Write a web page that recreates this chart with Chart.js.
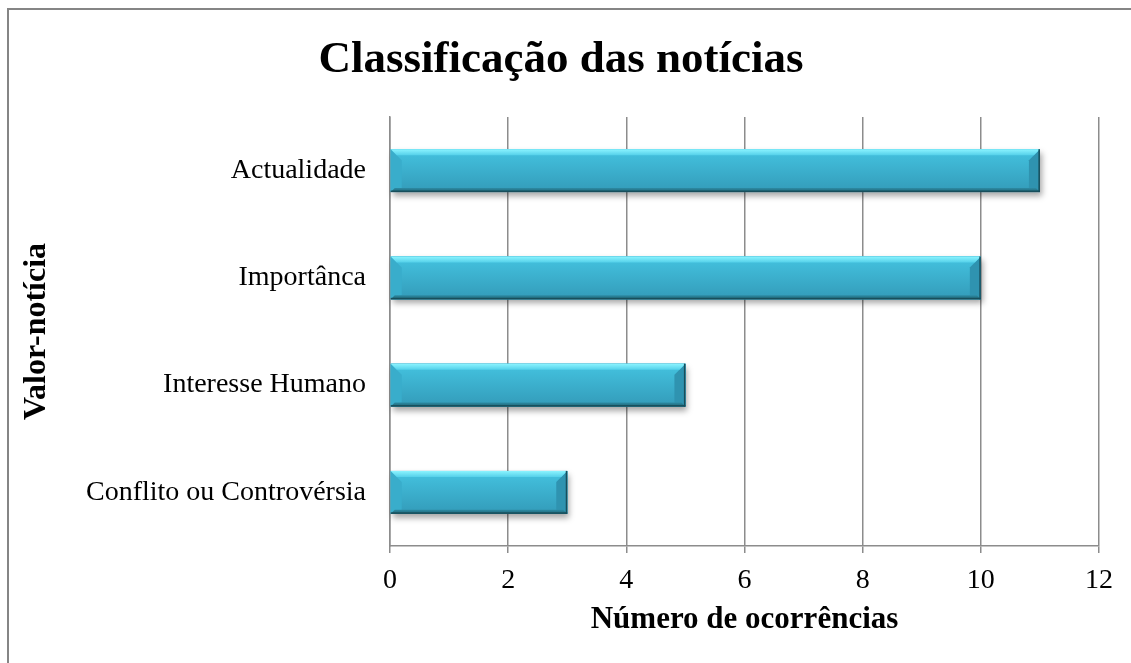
<!DOCTYPE html>
<html>
<head>
<meta charset="utf-8">
<title>Classificação das notícias</title>
<script src="https://cdn.jsdelivr.net/npm/chart.js@4.4.0/dist/chart.umd.min.js"></script>
<style>
  html, body { margin: 0; padding: 0; background: #fff; overflow: hidden; }
  #wrap { position: absolute; left: 0; top: 0; width: 1131px; height: 663px; }
  #frame { position: absolute; left: 7px; top: 8px; width: 1200px; height: 700px;
           border: 2px solid #858585; pointer-events: none; }
</style>
</head>
<body>
<div id="wrap"><canvas id="chart" width="1131" height="663"></canvas></div>
<div id="frame"></div>
<script>
// Data
const categories = ['Actualidade', 'Importânca', 'Interesse Humano', 'Conflito ou Controvérsia'];
const occurrences = [11, 10, 5, 3];
const xTicks = [0, 2, 4, 6, 8, 10, 12];

const SERIF = "'Liberation Serif', 'Times New Roman', serif";
const GRID = '#8c8c8c';

// Draw a closed polygon
const poly = (ctx, pts, fill) => {
  ctx.beginPath();
  ctx.moveTo(pts[0][0], pts[0][1]);
  pts.slice(1).forEach(p => ctx.lineTo(p[0], p[1]));
  ctx.closePath();
  ctx.fillStyle = fill;
  ctx.fill();
};

// Excel-like bevel and shadow on top of the bars Chart.js draws
const bevelBars = {
  id: 'bevelBars',
  beforeDatasetsDraw(chart) {
    const ctx = chart.ctx;
    chart.getDatasetMeta(0).data.forEach(bar => {
      const top = bar.y - bar.height / 2;
      ctx.save();
      ctx.shadowColor = 'rgba(0,0,0,0.35)';
      ctx.shadowBlur = 6;
      ctx.shadowOffsetX = 2;
      ctx.shadowOffsetY = 4;
      ctx.fillStyle = '#2f97b4';
      ctx.fillRect(bar.base, top, bar.x - bar.base, bar.height);
      ctx.restore();
    });
  },
  afterDatasetsDraw(chart) {
    const ctx = chart.ctx;
    chart.getDatasetMeta(0).data.forEach(bar => {
      const x0 = bar.base, x1 = bar.x;
      const y0 = bar.y - bar.height / 2, y1 = bar.y + bar.height / 2;
      const bx = 11, bt = 6, bb = 4;
      ctx.save();
      // main face
      let g = ctx.createLinearGradient(0, y0, 0, y1);
      g.addColorStop(0, '#44c3e0');
      g.addColorStop(1, '#339bb9');
      ctx.fillStyle = g;
      ctx.fillRect(x0, y0, x1 - x0, y1 - y0);
      // left face
      poly(ctx, [[x0, y0], [x0 + bx, y0 + bx], [x0 + bx, y1 - bb], [x0, y1]], '#39adcb');
      // right face
      poly(ctx, [[x1, y0], [x1, y1], [x1 - bx, y1 - bb], [x1 - bx, y0 + bx]], '#2f93b0');
      // top face
      g = ctx.createLinearGradient(0, y0, 0, y0 + bt);
      g.addColorStop(0, '#8cf4ff');
      g.addColorStop(1, '#55d1ea');
      poly(ctx, [[x0, y0], [x1, y0], [x1 - bt, y0 + bt], [x0 + bt, y0 + bt]], g);
      // bottom face
      g = ctx.createLinearGradient(0, y1 - bb, 0, y1);
      g.addColorStop(0, '#2d8aa3');
      g.addColorStop(1, '#1e6373');
      poly(ctx, [[x0 + bb, y1 - bb], [x1 - bb, y1 - bb], [x1, y1], [x0, y1]], g);
      ctx.fillStyle = '#184e5b';
      ctx.fillRect(x0, y1 - 1.5, x1 - x0, 1.5);
      ctx.fillRect(x1 - 1.5, y0, 1.5, y1 - y0);
      ctx.restore();
    });
  }
};

const ctx = document.getElementById('chart').getContext('2d');
new Chart(ctx, {
  type: 'bar',
  data: {
    labels: categories,
    datasets: [{
      label: 'Número de ocorrências',
      data: occurrences,
      backgroundColor: '#3aaed0',
      borderWidth: 0,
      categoryPercentage: 1,
      barPercentage: 0.4
    }]
  },
  options: {
    indexAxis: 'y',
    responsive: false,
    animation: false,
    devicePixelRatio: 1,
    layout: { padding: { left: 23, right: 32, top: 0, bottom: 0 } },
    plugins: {
      legend: { display: false },
      tooltip: { enabled: false },
      title: {
        display: true,
        text: 'Classificação das notícias',
        color: '#000',
        font: { family: SERIF, size: 45, weight: 'bold' },
        padding: { top: 33, bottom: 30 }
      }
    },
    scales: {
      x: {
        min: xTicks[0],
        max: xTicks[xTicks.length - 1],
        ticks: {
          stepSize: xTicks[1] - xTicks[0],
          color: '#000',
          font: { family: SERIF, size: 28 },
          padding: 11
        },
        grid: { color: GRID, lineWidth: 1.5, tickLength: 7 },
        border: { color: GRID, width: 1.5 },
        title: {
          display: true,
          text: 'Número de ocorrências',
          color: '#000',
          font: { family: SERIF, size: 31, weight: 'bold' },
          padding: { top: 0, bottom: 24 }
        },
        afterFit: s => { s.height = 117; }
      },
      y: {
        ticks: {
          color: '#000',
          font: { family: SERIF, size: 28 },
          padding: 16
        },
        grid: { display: false },
        border: { display: true, color: GRID, width: 1.5 },
        title: {
          display: true,
          text: 'Valor-notícia',
          color: '#000',
          font: { family: SERIF, size: 32, weight: 'bold' },
          padding: { top: -5, bottom: 0 }
        },
        afterFit: s => { s.width = 367; }
      }
    }
  },
  plugins: [bevelBars]
});
</script>
</body>
</html>
